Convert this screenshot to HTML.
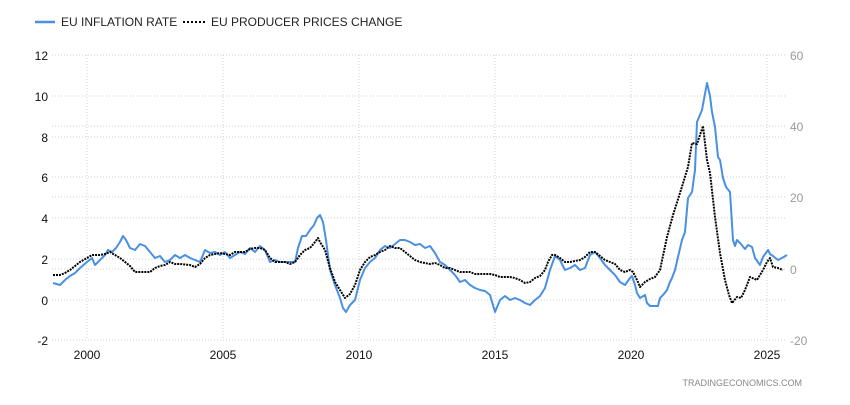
<!DOCTYPE html>
<html><head><style>
body{margin:0;background:#fff;width:850px;height:400px;overflow:hidden;font-family:"Liberation Sans",sans-serif}
</style></head><body>
<svg width="850" height="400" xmlns="http://www.w3.org/2000/svg" font-family="Liberation Sans, sans-serif">
<rect width="850" height="400" fill="#fff"/>
<g stroke="#d0d0d0" stroke-dasharray="1,2" stroke-width="1">
<line x1="52" x2="785" y1="55" y2="55"/><line x1="52" x2="785" y1="96" y2="96"/><line x1="52" x2="785" y1="137" y2="137"/><line x1="52" x2="785" y1="177" y2="177"/><line x1="52" x2="785" y1="218" y2="218"/><line x1="52" x2="785" y1="259" y2="259"/><line x1="52" x2="785" y1="300" y2="300"/><line x1="52" x2="785" y1="340" y2="340"/>
<line x1="52" x2="785" y1="126" y2="126"/><line x1="52" x2="785" y1="197" y2="197"/><line x1="52" x2="785" y1="269" y2="269"/>
<line x1="87" x2="87" y1="55" y2="340"/><line x1="223" x2="223" y1="55" y2="340"/><line x1="359" x2="359" y1="55" y2="340"/><line x1="495" x2="495" y1="55" y2="340"/><line x1="631" x2="631" y1="55" y2="340"/><line x1="767" x2="767" y1="55" y2="340"/>
</g>
<g font-size="12" fill="#111" text-anchor="end">
<text x="48" y="60">12</text><text x="48" y="101">10</text><text x="48" y="142">8</text><text x="48" y="182">6</text><text x="48" y="223">4</text><text x="48" y="264">2</text><text x="48" y="305">0</text><text x="48" y="345">-2</text>
</g>
<g font-size="12" fill="#999" text-anchor="start">
<text x="790" y="60">60</text><text x="790" y="131">40</text><text x="790" y="202">20</text><text x="790" y="274">0</text><text x="790" y="345">-20</text>
</g>
<g font-size="12" fill="#111" text-anchor="middle">
<text x="87" y="359">2000</text><text x="223" y="359">2005</text><text x="359" y="359">2010</text><text x="495" y="359">2015</text><text x="631" y="359">2020</text><text x="767" y="359">2025</text>
</g>
<text x="802" y="386" font-size="9" fill="#888" text-anchor="end">TRADINGECONOMICS.COM</text>
<line x1="35" x2="55" y1="22" y2="22" stroke="#4a90e2" stroke-width="2.5"/>
<text x="61" y="26" font-size="12" fill="#222">EU INFLATION RATE</text>
<line x1="183" x2="205" y1="22" y2="22" stroke="#000" stroke-width="2" stroke-dasharray="2,2"/>
<text x="211" y="26" font-size="12" fill="#222">EU PRODUCER PRICES CHANGE</text>
<polyline fill="none" stroke="#4a90e2" stroke-width="2" stroke-linejoin="round" points="53,283 60,285 65,280 70,276 75,273 80,268 87,262 92,258 95,265 100,260 105,255 108,250 112,252 116,248 120,242 123,236 126,240 130,248 135,250 140,244 145,246 150,252 155,258 160,256 165,262 170,260 175,255 180,258 185,255 190,258 195,260 200,262 205,250 210,253 215,252 220,255 225,252 230,258 235,255 240,252 245,254 250,248 255,252 260,246 265,250 270,262 275,260 280,262 290,262 295,262 298,248 302,236 306,236 310,230 314,225 317,218 320,215 323,222 326,240 330,270 335,285 340,298 343,308 346,312 350,305 355,300 360,280 365,268 370,262 375,258 380,250 385,246 390,248 395,244 400,240 405,240 410,242 415,245 420,244 425,248 430,246 435,253 440,262 445,265 450,270 455,275 460,282 465,280 470,285 475,288 480,290 485,291 490,295 495,312 500,300 505,296 510,300 515,298 520,300 525,303 530,305 535,300 540,296 545,288 550,270 555,256 560,260 565,270 570,268 575,265 580,270 585,268 590,255 595,252 600,258 605,265 610,270 615,275 620,282 625,285 630,278 632,276 635,285 637,293 640,298 645,295 647,303 650,306 658,306 660,298 663,295 667,290 670,282 672,278 675,270 678,257 682,240 685,232 688,198 692,192 695,170 697,122 702,110 707,83 710,96 712,112 715,127 718,157 720,160 723,178 726,187 730,192 733,240 735,246 737,240 740,243 745,249 748,245 752,247 755,258 760,265 763,257 768,250 770,254 773,256 778,260 782,258 787,255"/>
<polyline fill="none" stroke="#000" stroke-width="2" stroke-dasharray="2,1" stroke-linejoin="round" points="53,275 60,275 65,273 70,270 75,266 80,262 87,258 92,255 100,255 105,254 110,252 115,255 120,258 125,262 130,266 135,272 140,272 150,272 155,268 160,266 165,265 170,262 175,264 180,264 190,265 195,267 200,264 205,258 210,255 215,254 220,253 225,254 230,255 235,252 245,252 250,249 255,248 260,248 265,250 270,258 275,262 285,262 290,264 295,262 300,255 305,250 310,248 315,242 318,238 320,242 325,250 330,268 335,282 340,290 345,298 350,294 355,285 360,270 365,262 370,257 375,255 380,252 385,250 390,246 395,248 400,248 405,252 410,256 415,260 420,262 425,263 430,264 435,263 440,265 445,268 450,268 455,270 460,272 470,272 475,274 490,274 495,275 500,277 510,277 515,278 520,280 525,283 530,282 535,278 540,276 545,270 548,262 552,255 555,255 560,258 565,262 570,262 580,260 585,257 590,252 595,252 600,256 605,260 610,262 615,264 620,270 625,272 630,270 633,272 637,280 640,287 645,282 650,279 655,277 660,270 667,237 673,215 680,193 688,167 692,143 697,144 700,135 703,126 707,160 710,173 715,217 720,253 725,280 729,295 732,303 737,297 741,298 745,290 750,277 757,280 763,270 767,262 770,258 773,267 778,268 783,270"/>
</svg>
</body></html>
